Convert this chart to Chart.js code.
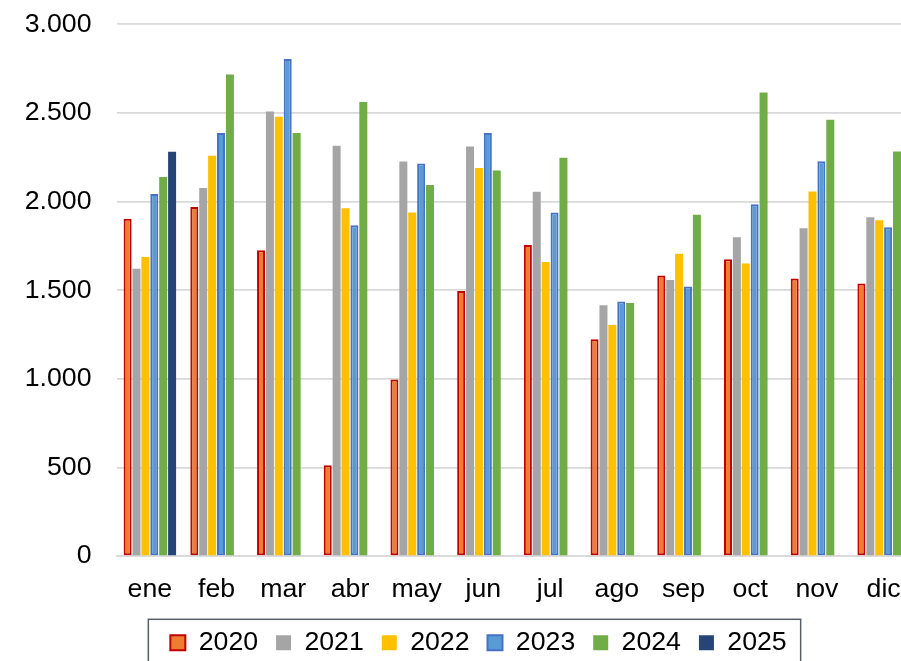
<!DOCTYPE html>
<html>
<head>
<meta charset="utf-8">
<script src="https://cdn.jsdelivr.net/npm/chart.js@4"></script>
<style>
  html, body { margin: 0; padding: 0; background: #fff; overflow: hidden; }
  #wrap { width: 953px; height: 670px; }
</style>
</head>
<body>
<div id="wrap"><canvas id="myChart"></canvas></div>
<script>
  const meses = ['ene','feb','mar','abr','may','jun','jul','ago','sep','oct','nov','dic'];
  const v2020 = [1903, 1970, 1726, 513, 996, 1496, 1755, 1223, 1583, 1674, 1566, 1538];
  const v2021 = [1621, 2076, 2508, 2315, 2226, 2311, 2055, 1415, 1557, 1798, 1849, 1911];
  const v2022 = [1687, 2259, 2479, 1962, 1938, 2189, 1659, 1304, 1706, 1651, 2057, 1895];
  const v2023 = [2042, 2387, 2804, 1866, 2215, 2387, 1938, 1436, 1521, 1985, 2228, 1855];
  const v2024 = [2138, 2717, 2387, 2562, 2094, 2175, 2247, 1428, 1925, 2615, 2462, 2283];
  const v2025 = [2281, null, null, null, null, null, null, null, null, null, null, null];
  const yTicks = [0, 500, 1000, 1500, 2000, 2500, 3000];

  Chart.defaults.font.family = "'Liberation Sans', Arial, sans-serif";
  Chart.defaults.color = '#000';

  // frame round the legend, like the Excel one (and nudge the legend right)
  const legendFrame = {
    id: 'legendFrame',
    afterLayout(chart) {
      chart.legend.left += 40;
    },
    afterDraw(chart) {
      const boxes = chart.legend.legendHitBoxes;
      if (!boxes || !boxes.length) return;
      const left = boxes[0].left - 22;
      const last = boxes[boxes.length - 1];
      const right = last.left + last.width + 14;
      const top = chart.legend.top + 8;
      const ctx = chart.ctx;
      ctx.save();
      ctx.strokeStyle = '#56606b';
      ctx.lineWidth = 1.5;
      ctx.strokeRect(left, top, right - left, 80);
      ctx.restore();
    }
  };

  function serie(label, data, bg, border) {
    return {
      label: label,
      data: data,
      backgroundColor: bg,
      borderColor: border || bg,
      borderWidth: border ? 2 : 0,
      borderSkipped: false,
      categoryPercentage: 0.8,
      barPercentage: 0.9
    };
  }

  new Chart("myChart", {
    type: "bar",
    data: {
      labels: meses,
      datasets: [
        serie('2020', v2020, '#ed7d31', '#c00000'),
        serie('2021', v2021, '#a5a5a5'),
        serie('2022', v2022, '#ffc000'),
        serie('2023', v2023, '#5b9bd5', '#4472c4'),
        serie('2024', v2024, '#70ad47'),
        serie('2025', v2025, '#264478')
      ]
    },
    options: {
      responsive: true,
      maintainAspectRatio: false,
      animation: false,
      layout: { padding: { top: 24.3, right: 36, left: 0, bottom: 4 } },
      plugins: {
        legend: {
          position: 'bottom',
          labels: {
            boxWidth: 15,
            boxHeight: 15,
            padding: 18,
            font: { size: 26.7 },
            color: '#000'
          }
        },
        tooltip: { enabled: false }
      },
      scales: {
        x: {
          afterFit: function(scale) { scale.height = 55.2; },
          grid: { display: false, drawTicks: false },
          border: { color: '#d9d9d9', width: 1.8 },
          ticks: { font: { size: 26.7 }, padding: 18, maxRotation: 0, autoSkip: false }
        },
        y: {
          min: 0,
          max: 3000,
          afterFit: function(scale) {
            scale.width = 116.5;
            scale.paddingTop = 0;
            scale.paddingBottom = 0;
          },
          afterBuildTicks: function(scale) { scale.ticks = yTicks.map(v => ({ value: v })); },
          grid: { color: '#d9d9d9', lineWidth: 1.8, drawTicks: false },
          border: { display: false },
          ticks: {
            font: { size: 26.7 },
            padding: 25,
            callback: v => String(v).replace(/\B(?=(\d{3})+(?!\d))/g, '.')
          }
        }
      }
    },
    plugins: [legendFrame]
  });
</script>
</body>
</html>
